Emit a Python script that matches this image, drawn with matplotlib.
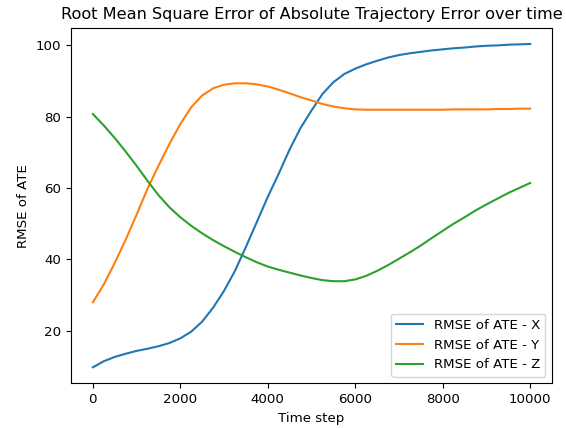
import matplotlib
matplotlib.use("Agg")
import matplotlib.pyplot as plt

# Time steps at which the RMSE values were recorded
time_steps = [0, 250, 500, 750, 1000, 1250, 1500, 1750, 2000, 2250, 2500,
              2750, 3000, 3250, 3500, 3750, 4000, 4250, 4500, 4750, 5000,
              5250, 5500, 5750, 6000, 6250, 6500, 6750, 7000, 7250, 7500,
              7750, 8000, 8250, 8500, 8750, 9000, 9250, 9500, 9750, 10000]

# RMSE of the absolute trajectory error per axis
rmse_x = [9.8, 11.5, 12.7, 13.6, 14.4, 15.0, 15.7, 16.6, 17.9, 19.8, 22.6,
          26.5, 31.2, 36.8, 43.5, 50.5, 57.5, 64.0, 70.8, 76.8, 81.7,
          86.3, 89.6, 91.9, 93.4, 94.6, 95.6, 96.5, 97.2, 97.7, 98.1,
          98.5, 98.8, 99.1, 99.3, 99.6, 99.8, 99.9, 100.1, 100.2, 100.3]
rmse_y = [28.0, 33.0, 39.0, 45.5, 52.5, 59.8, 66.2, 72.3, 77.9, 82.6, 85.9,
          87.9, 88.9, 89.3, 89.3, 89.0, 88.4, 87.5, 86.5, 85.4, 84.5,
          83.5, 82.8, 82.3, 82.0, 81.9, 81.9, 81.9, 81.9, 81.9, 81.9,
          81.9, 81.9, 82.0, 82.0, 82.0, 82.0, 82.1, 82.1, 82.2, 82.2]
rmse_z = [80.7, 77.5, 74.0, 70.2, 66.2, 62.0, 58.0, 54.6, 51.8, 49.4, 47.3,
          45.4, 43.7, 42.1, 40.6, 39.2, 38.0, 37.1, 36.3, 35.5, 34.8,
          34.2, 33.9, 33.9, 34.4, 35.4, 36.8, 38.4, 40.2, 42.0, 43.9,
          46.0, 48.0, 50.0, 51.8, 53.7, 55.4, 57.0, 58.6, 60.0, 61.4]

series_labels = ["RMSE of ATE - X", "RMSE of ATE - Y", "RMSE of ATE - Z"]

fig = plt.figure(figsize=(5.66, 4.28), dpi=100)
ax = fig.add_axes([0.1254, 0.104, 0.850, 0.831])

for values, label in zip([rmse_x, rmse_y, rmse_z], series_labels):
    ax.plot(time_steps, values, label=label)

ax.set_title("Root Mean Square Error of Absolute Trajectory Error over time",
             fontsize=11.6)
ax.set_xlabel("Time step", fontsize=9.6)
ax.set_ylabel("RMSE of ATE", fontsize=9.6)
ax.tick_params(labelsize=9.6)
ax.legend(loc="lower right", fontsize=9.6)

fig.savefig("out.png", dpi=100)
